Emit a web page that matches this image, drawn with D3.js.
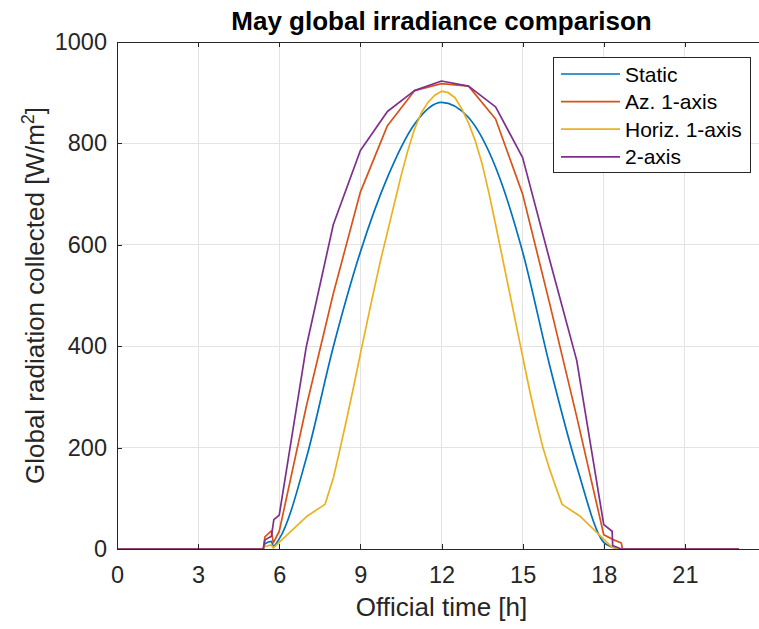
<!DOCTYPE html>
<html>
<head>
<meta charset="utf-8">
<script src="https://cdn.jsdelivr.net/npm/d3@7"></script>
<style>
	body { margin: 0; background: #fff; }
	svg { display: block; font-family: "Liberation Sans", Arial, Helvetica, sans-serif; }
</style>
</head>
<body>
<svg id="chart" width="759" height="629"></svg>
<script>

// Data

var seriesNames = ["Static", "Az. 1-axis", "Horiz. 1-axis", "2-axis"];
var seriesColors = ["#0072BD", "#D95319", "#EDB120", "#7E2F8E"];

var staticHours = [0, 5.41, 5.47, 5.71, 5.78, 6, 7, 8, 9, 10, 11, 12, 13, 14, 15, 16, 17, 18, 18.3, 18.65, 23];
var staticValues = [0, 0, 10, 15, 6, 20, 179, 399, 586, 733, 838, 881, 851, 753, 586, 362, 163, 13, 4, 0, 0];

var azHours = [0, 5.41, 5.47, 5.71, 5.78, 6, 7, 8, 9, 10, 11, 12, 13, 14, 15, 16, 17, 18, 18.37, 18.65, 18.69, 23];
var azValues = [0, 0, 24, 36, 12, 35, 281, 504, 704, 835, 904, 918, 913, 848, 700, 484, 261, 28, 18, 12, 0, 0];

var horizHours = [0, 5.41, 5.47, 5.71, 5.78, 7.01, 7.69, 8, 8.25, 8.5, 8.75, 9, 9.25, 9.5, 9.75, 10, 10.25, 10.5, 10.75,
	11, 11.25, 11.5, 11.75, 12, 12.25, 12.5, 12.75, 13, 13.25, 13.5, 13.75, 14, 14.25, 14.5, 14.75, 15, 15.25, 15.5, 15.75,
	16, 16.25, 16.46, 17.14, 18.31, 18.65, 23];
var horizValues = [0, 0, 5, 8, 2, 64, 88, 140, 198, 258, 320, 385, 448, 510, 570, 625, 680, 735, 785,
	828, 860, 881, 895, 903, 900, 890, 868, 840, 805, 760, 703, 640, 575, 510, 445, 380, 315, 255, 200,
	157, 119, 88, 64, 3, 0, 0];

var twoAxisHours = [0, 5.41, 5.47, 5.71, 5.8, 6, 7, 8, 9, 10, 11, 12, 13, 14, 15, 16, 17, 18, 18.31, 18.33, 18.64, 23];
var twoAxisValues = [0, 0, 18, 25, 58, 67, 399, 640, 786, 863, 904, 923, 913, 872, 772, 570, 372, 48, 35, 7, 0, 0];

var xTicks = [0, 3, 6, 9, 12, 15, 18, 21, 24];
var yTicks = [0, 200, 400, 600, 800, 1000];

// Setup

var svg = d3.select("#chart");
var axisColor = "#262626";

var x = d3.scaleLinear().domain([0, 24]).range([117, 766]);
var y = d3.scaleLinear().domain([0, 1000]).range([549, 42]);

// Grid

var grid = svg.append("g").attr("shape-rendering", "crispEdges");

grid.selectAll(".vgrid").data(xTicks).enter().append("line")
	.attr("x1", function(d) { return x(d); })
	.attr("x2", function(d) { return x(d); })
	.attr("y1", y(0))
	.attr("y2", y(1000))
	.attr("stroke", "#e3e3e3");

grid.selectAll(".hgrid").data(yTicks).enter().append("line")
	.attr("x1", x(0))
	.attr("x2", x(24))
	.attr("y1", function(d) { return y(d); })
	.attr("y2", function(d) { return y(d); })
	.attr("stroke", "#e3e3e3");

// Lines

var series = [
	{ hours: staticHours, values: staticValues, curve: d3.curveMonotoneX },
	{ hours: azHours, values: azValues, curve: d3.curveLinear },
	{ hours: horizHours, values: horizValues, curve: d3.curveLinear },
	{ hours: twoAxisHours, values: twoAxisValues, curve: d3.curveLinear }
];

series.forEach(function(s, i) {
	var line = d3.line()
		.x(function(d) { return x(s.hours[d]); })
		.y(function(d) { return y(s.values[d]); })
		.curve(s.curve);

	svg.append("path")
		.datum(d3.range(s.hours.length))
		.attr("d", line)
		.attr("fill", "none")
		.attr("stroke", seriesColors[i])
		.attr("stroke-width", 1.7)
		.attr("stroke-linejoin", "round");
});

// Axes

function styleAxis(g) {
	g.attr("shape-rendering", "crispEdges");
	g.select(".domain").attr("stroke", axisColor);
	g.selectAll(".tick line").attr("stroke", axisColor);
	g.selectAll(".tick text").attr("fill", axisColor).attr("font-size", "23.5px");
}

svg.append("g")
	.attr("transform", "translate(0," + y(0) + ")")
	.call(d3.axisBottom(x).tickValues(xTicks.slice(0, 8)).tickSizeInner(-5).tickSizeOuter(0).tickPadding(17))
	.call(styleAxis);

svg.append("g")
	.attr("transform", "translate(0," + y(1000) + ")")
	.call(d3.axisTop(x).tickValues(xTicks).tickSizeInner(-5).tickSizeOuter(0).tickFormat(""))
	.call(styleAxis);

svg.append("g")
	.attr("transform", "translate(" + x(0) + ",0)")
	.call(d3.axisLeft(y).tickValues(yTicks).tickSizeInner(-5).tickSizeOuter(0).tickPadding(10).tickFormat(d3.format("d")))
	.call(styleAxis);

svg.append("g")
	.attr("transform", "translate(" + x(24) + ",0)")
	.call(d3.axisRight(y).tickValues(yTicks).tickSizeInner(-5).tickSizeOuter(0).tickFormat(""))
	.call(styleAxis);

// Labels

svg.append("text")
	.attr("x", (x(0) + x(24)) / 2)
	.attr("y", 30)
	.attr("text-anchor", "middle")
	.attr("font-size", "26px")
	.attr("font-weight", "bold")
	.attr("fill", "#000")
	.text("May global irradiance comparison");

svg.append("text")
	.attr("x", (x(0) + x(24)) / 2)
	.attr("y", 616)
	.attr("text-anchor", "middle")
	.attr("font-size", "26px")
	.attr("fill", axisColor)
	.text("Official time [h]");

var yLabel = svg.append("text")
	.attr("transform", "translate(44," + (y(0) + y(1000)) / 2 + ") rotate(-90)")
	.attr("text-anchor", "middle")
	.attr("font-size", "26px")
	.attr("fill", axisColor);
yLabel.append("tspan").text("Global radiation collected [W/m");
yLabel.append("tspan").attr("dy", -10).attr("font-size", "18px").text("2");
yLabel.append("tspan").attr("dy", 10).text("]");

// Legend

var legend = svg.append("g");

legend.append("rect")
	.attr("x", 553.5)
	.attr("y", 57.5)
	.attr("width", 197)
	.attr("height", 115)
	.attr("fill", "#fff")
	.attr("stroke", axisColor);

seriesNames.forEach(function(name, i) {
	var rowY = 74 + i * 27.6;

	legend.append("line")
		.attr("x1", 561)
		.attr("x2", 620)
		.attr("y1", rowY)
		.attr("y2", rowY)
		.attr("stroke", seriesColors[i])
		.attr("stroke-width", 1.7);

	legend.append("text")
		.attr("x", 625)
		.attr("y", rowY + 7.5)
		.attr("font-size", "21px")
		.attr("fill", "#000")
		.text(name);
});

</script>
</body>
</html>
